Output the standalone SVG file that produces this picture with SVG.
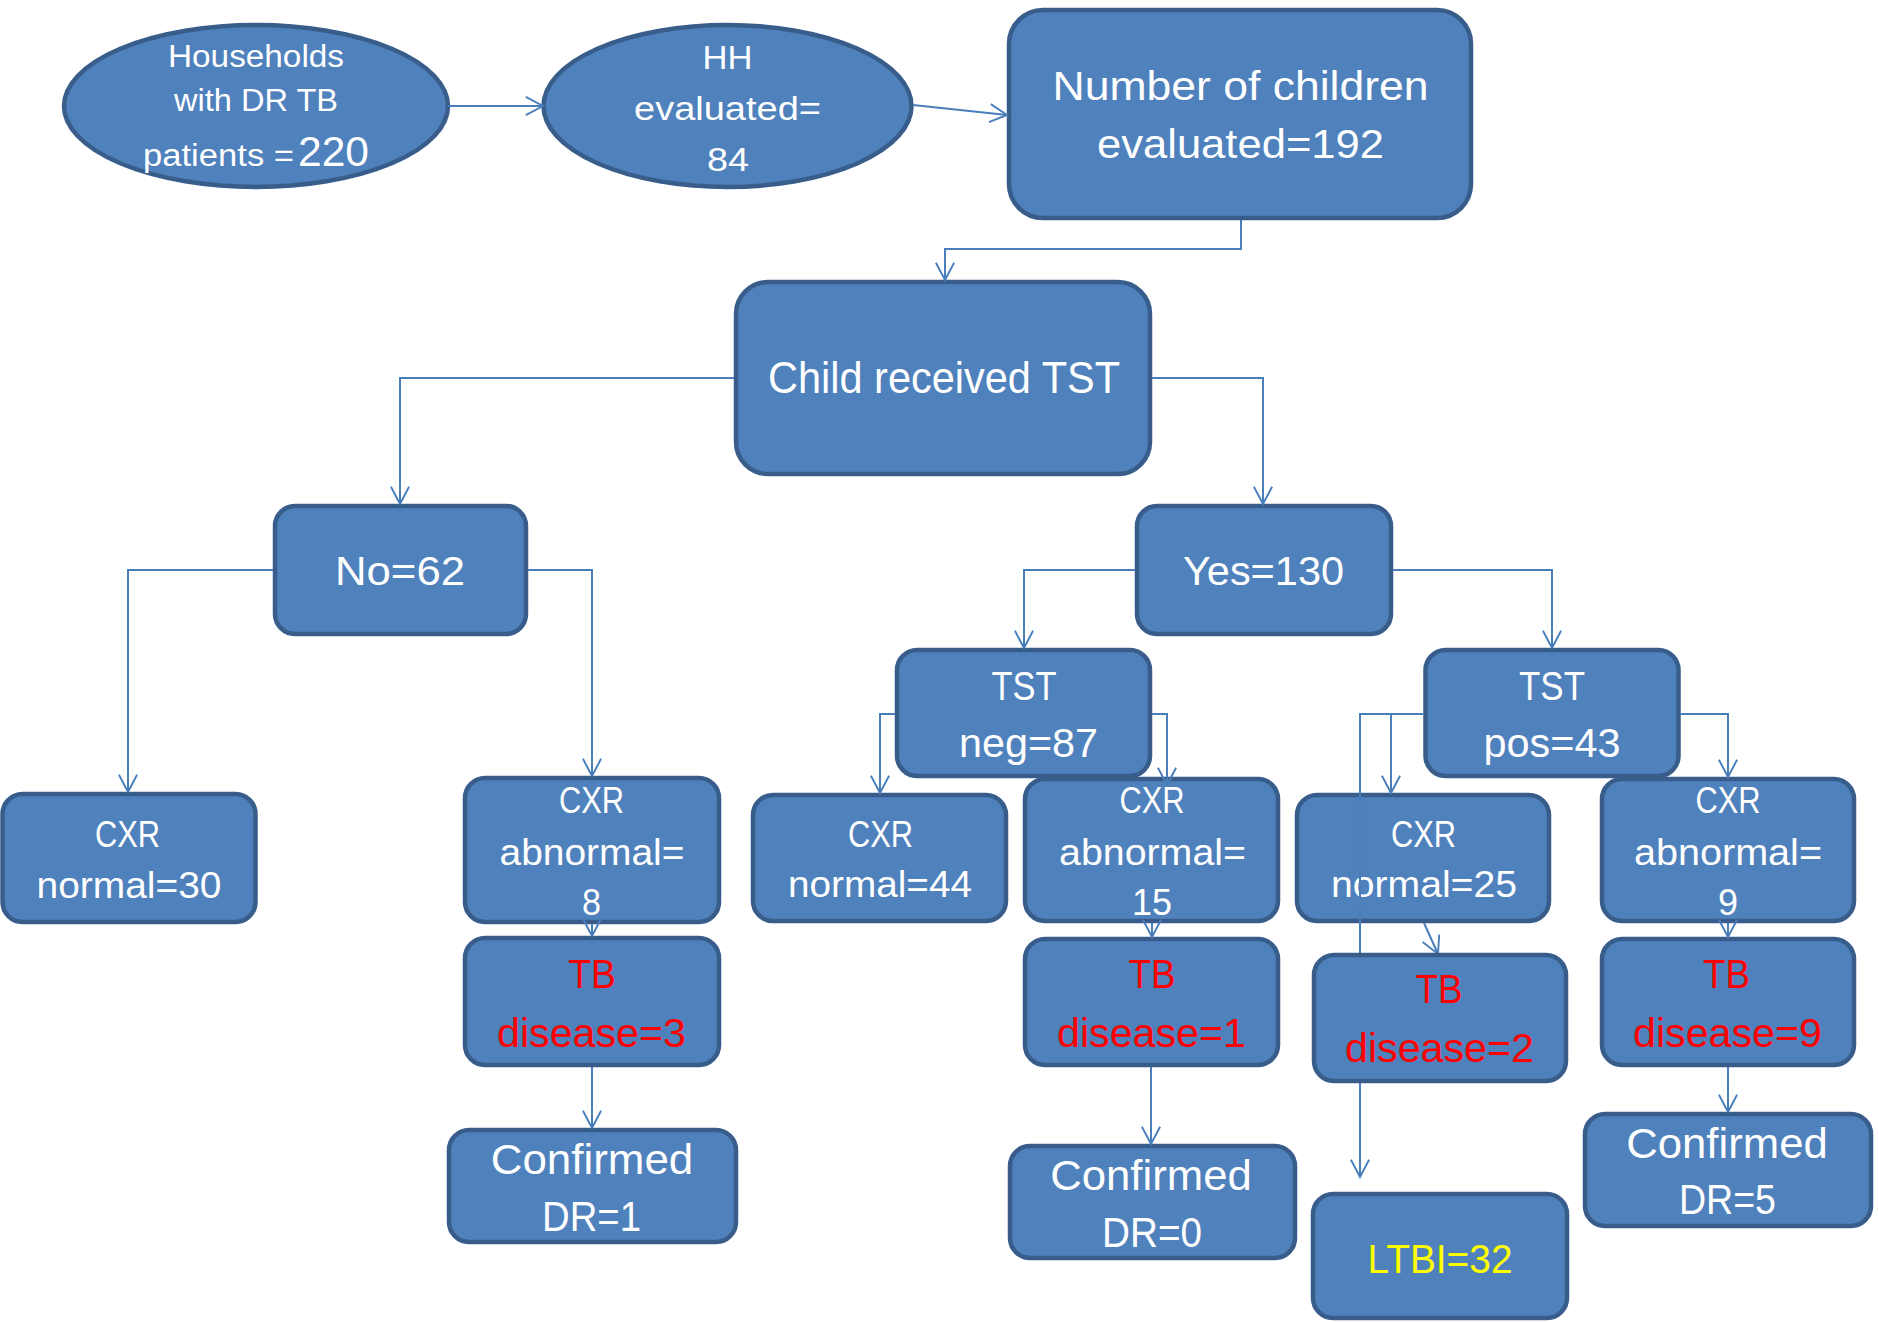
<svg xmlns="http://www.w3.org/2000/svg" width="1878" height="1322" viewBox="0 0 1878 1322">
<style>
.n{fill:#4f81bd;stroke:#385d8a;stroke-width:4.5}
text{font-family:"Liberation Sans Narrow","Liberation Sans",Arial,sans-serif;fill:#ffffff;text-anchor:middle}
.r{fill:#ff0000}
.y{fill:#ffff00}
.c path{fill:none;stroke:#4a7ebb;stroke-width:2;marker-end:url(#ah)}
</style>
<defs>
<marker id="ah" markerUnits="userSpaceOnUse" markerWidth="22" markerHeight="22" refX="18" refY="9.5" orient="auto" viewBox="-2 -2 22 23">
<path d="M0,0 L18,9.5 L0,19" fill="none" stroke="#4a7ebb" stroke-width="2"/>
</marker>
</defs>
<rect width="1878" height="1322" fill="#ffffff"/>

<g id="households">
<ellipse class="n" cx="256" cy="106" rx="192" ry="81"/>
<text x="256" y="67" font-size="31" textLength="176" lengthAdjust="spacingAndGlyphs">Households</text>
<text x="256" y="111" font-size="31" textLength="164" lengthAdjust="spacingAndGlyphs">with DR TB</text>
<text y="166" font-size="31"><tspan x="143" style="text-anchor:start" textLength="151" lengthAdjust="spacingAndGlyphs">patients =</tspan><tspan x="298" style="text-anchor:start" font-size="43" textLength="71" lengthAdjust="spacingAndGlyphs">220</tspan></text>
</g>

<g id="hh_evaluated">
<ellipse class="n" cx="727.5" cy="106" rx="184" ry="81"/>
<text x="727.5" y="69" font-size="33" textLength="50" lengthAdjust="spacingAndGlyphs">HH</text>
<text x="727.5" y="120" font-size="33" textLength="187" lengthAdjust="spacingAndGlyphs">evaluated=</text>
<text x="728" y="171" font-size="34" textLength="42" lengthAdjust="spacingAndGlyphs">84</text>
</g>

<g id="children_evaluated">
<rect class="n" x="1009" y="10" width="462" height="208" rx="34"/>
<text x="1240.5" y="100" font-size="41" textLength="376" lengthAdjust="spacingAndGlyphs">Number of children</text>
<text x="1240.5" y="158" font-size="41" textLength="287" lengthAdjust="spacingAndGlyphs">evaluated=192</text>
</g>

<g id="child_received_tst">
<rect class="n" x="736" y="282" width="414" height="192" rx="32"/>
<text x="944" y="393" font-size="43.5" textLength="352" lengthAdjust="spacingAndGlyphs">Child received TST</text>
</g>

<g id="no62">
<rect class="n" x="275" y="506" width="251" height="128" rx="20"/>
<text x="400" y="585" font-size="41.5" textLength="130" lengthAdjust="spacingAndGlyphs">No=62</text>
</g>

<g id="yes130">
<rect class="n" x="1137" y="506" width="254" height="128" rx="20"/>
<text x="1263.5" y="585" font-size="41.5" textLength="161" lengthAdjust="spacingAndGlyphs">Yes=130</text>
</g>

<g id="tst_neg">
<rect class="n" x="897" y="650" width="253" height="126" rx="20"/>
<text x="1024" y="700" font-size="40.5" textLength="65" lengthAdjust="spacingAndGlyphs">TST</text>
<text x="1028.5" y="757" font-size="40.5" textLength="139" lengthAdjust="spacingAndGlyphs">neg=87</text>
</g>

<g id="tst_pos">
<rect class="n" x="1425.5" y="650" width="253" height="126" rx="20"/>
<text x="1552" y="700" font-size="40.5" textLength="66" lengthAdjust="spacingAndGlyphs">TST</text>
<text x="1552" y="757" font-size="40.5" textLength="137" lengthAdjust="spacingAndGlyphs">pos=43</text>
</g>

<g id="cxr_normal30">
<rect class="n" x="2.5" y="794" width="253" height="128" rx="20"/>
<text x="127.5" y="847" font-size="37.5" textLength="65" lengthAdjust="spacingAndGlyphs">CXR</text>
<text x="129" y="897.5" font-size="37.5" textLength="185" lengthAdjust="spacingAndGlyphs">normal=30</text>
</g>

<g id="cxr_abnormal8">
<rect class="n" x="465" y="778" width="254" height="144" rx="20"/>
<text x="591.5" y="813" font-size="37.5" textLength="65" lengthAdjust="spacingAndGlyphs">CXR</text>
<text x="592" y="864.5" font-size="37.5" textLength="185" lengthAdjust="spacingAndGlyphs">abnormal=</text>
<text x="591.5" y="915" font-size="37.5" textLength="19" lengthAdjust="spacingAndGlyphs">8</text>
</g>

<g id="cxr_normal44">
<rect class="n" x="753" y="795" width="253" height="126" rx="20"/>
<text x="880.5" y="847" font-size="37.5" textLength="65" lengthAdjust="spacingAndGlyphs">CXR</text>
<text x="880" y="897" font-size="37.5" textLength="184" lengthAdjust="spacingAndGlyphs">normal=44</text>
</g>

<g id="cxr_abnormal15">
<rect class="n" x="1025" y="779" width="253" height="142" rx="20"/>
<text x="1152" y="813" font-size="37.5" textLength="65" lengthAdjust="spacingAndGlyphs">CXR</text>
<text x="1152.5" y="864.5" font-size="37.5" textLength="187" lengthAdjust="spacingAndGlyphs">abnormal=</text>
<text x="1152" y="915" font-size="37.5" textLength="40" lengthAdjust="spacingAndGlyphs">15</text>
</g>

<g id="cxr_normal25">
<rect class="n" x="1297" y="795" width="252" height="126" rx="20"/>
<text x="1423.5" y="847" font-size="37.5" textLength="65" lengthAdjust="spacingAndGlyphs">CXR</text>
<text x="1424" y="897" font-size="37.5" textLength="186" lengthAdjust="spacingAndGlyphs">normal=25</text>
</g>

<g id="cxr_abnormal9">
<rect class="n" x="1602" y="779" width="252" height="142" rx="20"/>
<text x="1728" y="813" font-size="37.5" textLength="65" lengthAdjust="spacingAndGlyphs">CXR</text>
<text x="1728" y="864.5" font-size="37.5" textLength="188" lengthAdjust="spacingAndGlyphs">abnormal=</text>
<text x="1728" y="915" font-size="37.5" textLength="20" lengthAdjust="spacingAndGlyphs">9</text>
</g>

<g id="tb_disease3">
<rect class="n" x="465" y="938" width="254" height="127" rx="20"/>
<text class="r" x="592" y="988" font-size="41" textLength="47.5" lengthAdjust="spacingAndGlyphs">TB</text>
<text class="r" x="591.5" y="1047" font-size="41" textLength="189" lengthAdjust="spacingAndGlyphs">disease=3</text>
</g>

<g id="tb_disease1">
<rect class="n" x="1025" y="939" width="253" height="126" rx="20"/>
<text class="r" x="1152" y="988" font-size="41" textLength="47" lengthAdjust="spacingAndGlyphs">TB</text>
<text class="r" x="1151.5" y="1047" font-size="41" textLength="189" lengthAdjust="spacingAndGlyphs">disease=1</text>
</g>

<g id="tb_disease9">
<rect class="n" x="1602" y="939" width="252" height="126" rx="20"/>
<text class="r" x="1726.5" y="988" font-size="41" textLength="47" lengthAdjust="spacingAndGlyphs">TB</text>
<text class="r" x="1727.5" y="1047" font-size="41" textLength="189" lengthAdjust="spacingAndGlyphs">disease=9</text>
</g>

<g id="confirmed_dr1">
<rect class="n" x="449" y="1130" width="287" height="112" rx="20"/>
<text x="592" y="1173.5" font-size="42.5" textLength="202.6" lengthAdjust="spacingAndGlyphs">Confirmed</text>
<text x="591.5" y="1230.5" font-size="42.5" textLength="99" lengthAdjust="spacingAndGlyphs">DR=1</text>
</g>

<g id="confirmed_dr0">
<rect class="n" x="1010" y="1146" width="285" height="112" rx="20"/>
<text x="1151" y="1190" font-size="42.5" textLength="201.6" lengthAdjust="spacingAndGlyphs">Confirmed</text>
<text x="1152" y="1246.5" font-size="42.5" textLength="100" lengthAdjust="spacingAndGlyphs">DR=0</text>
</g>

<g id="ltbi32">
<rect class="n" x="1313" y="1194" width="254" height="124" rx="20"/>
<text class="y" x="1440" y="1273" font-size="41.5" textLength="145" lengthAdjust="spacingAndGlyphs">LTBI=32</text>
</g>

<g id="confirmed_dr5">
<rect class="n" x="1585" y="1114" width="286" height="112" rx="20"/>
<text x="1727" y="1157.5" font-size="42.5" textLength="201.6" lengthAdjust="spacingAndGlyphs">Confirmed</text>
<text x="1727.5" y="1214" font-size="42.5" textLength="97" lengthAdjust="spacingAndGlyphs">DR=5</text>
</g>

<g id="connectors" class="c">
<path d="M448,106 L543,106"/>
<path d="M913,105 L1007,115"/>
<path d="M1241,220 V249 H945 V280"/>
<path d="M734,378 H400 V504"/>
<path d="M1152,378 H1263 V504"/>
<path d="M273,570 H128 V792"/>
<path d="M528,570 H592 V776"/>
<path d="M1135,570 H1024 V648"/>
<path d="M1393,570 H1552 V648"/>
<path d="M895,714 H880 V793"/>
<path d="M1152,714 H1167 V785"/>
<path d="M1423,714 H1391 V793"/>
<path d="M1423,714 H1360 V1177"/>
<path d="M1680,714 H1728 V777"/>
<path d="M592,924 V936"/>
<path d="M1152,923 V937"/>
<path d="M1424,923 L1438,954"/>
<path d="M1728,923 V937"/>
<path d="M592,1067 V1128"/>
<path d="M1151,1067 V1144"/>
<path d="M1728,1067 V1112"/>
</g>

<g id="tb_disease2">
<rect class="n" x="1314" y="955" width="252" height="126" rx="20"/>
<text class="r" x="1439" y="1003" font-size="41" textLength="47" lengthAdjust="spacingAndGlyphs">TB</text>
<text class="r" x="1439.5" y="1062" font-size="41" textLength="189" lengthAdjust="spacingAndGlyphs">disease=2</text>
</g>
</svg>
